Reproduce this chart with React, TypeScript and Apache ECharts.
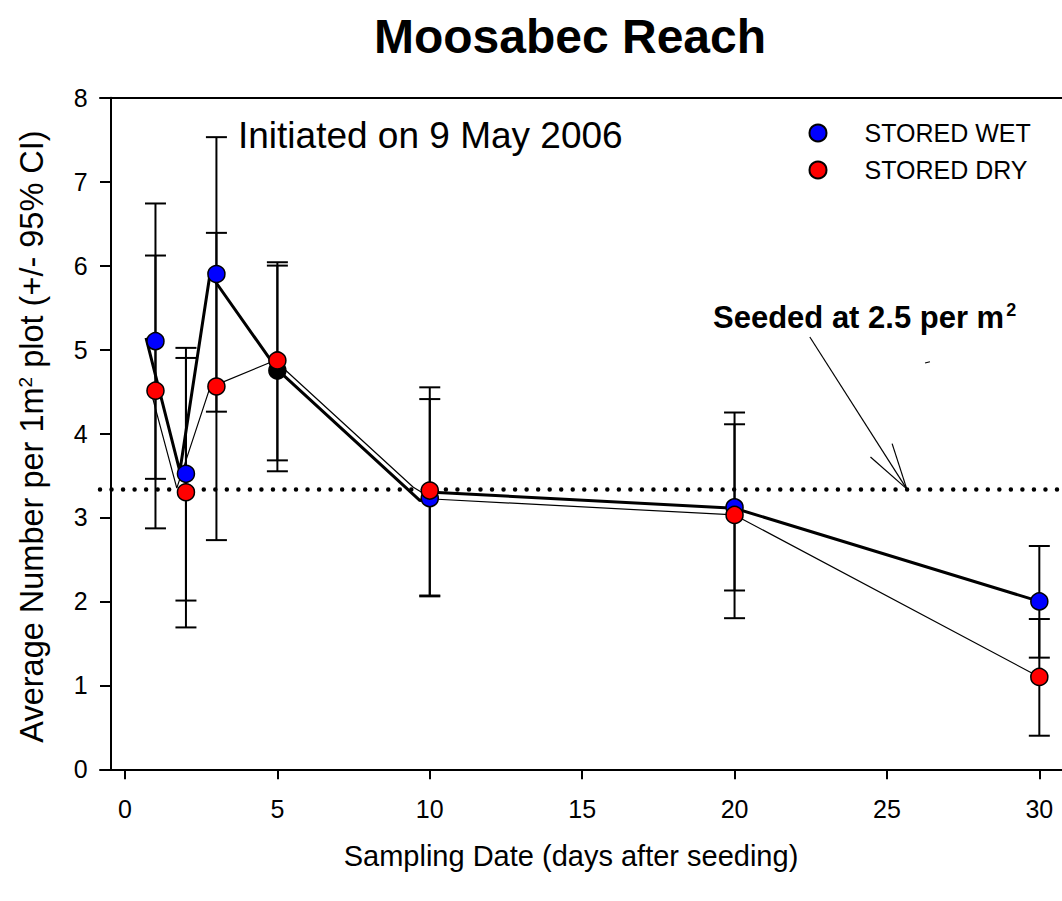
import React, { useEffect, useRef } from "react";
import * as echarts from "echarts";

const FONT = "'Liberation Sans', Arial, Helvetica, sans-serif";

// Sampling days (x) and values
const days = [1, 2, 3, 5, 10, 20, 30];
const wetMean = [5.1, 3.52, 5.9, 4.75, 3.23, 3.12, 2.0];
const wetLow = [3.46, 2.01, 4.26, 3.55, 2.06, 2.13, 1.33];
const wetHigh = [6.74, 5.02, 7.53, 6.0, 4.41, 4.11, 2.66];
const dryMean = [4.51, 3.3, 4.56, 4.87, 3.32, 3.03, 1.1];
const dryLow = [2.87, 1.69, 2.73, 3.68, 2.07, 1.8, 0.4];
const dryHigh = [6.12, 4.9, 6.39, 6.04, 4.55, 4.25, 1.79];

// Connecting-line vertices as drawn (slightly offset from the symbols)
const wetLineX = [0.69, 1.8, 2.79, 5.0, 9.68, 10.1, 20, 30];
const wetLineY = [5.14, 3.55, 5.9, 4.76, 3.2, 3.3, 3.11, 2.0];
const dryLineX = [0.88, 1.7, 2.79, 4.92, 9.46, 10.1, 20, 30];
const dryLineY = [4.46, 3.35, 4.55, 4.87, 3.36, 3.22, 3.03, 1.1];

const xTicks = [0, 5, 10, 15, 20, 25, 30];
const seededLevel = 3.34;
// arrow annotation (data coordinates)
const arrowStart = [22.47, 5.15];
const arrowTip = [25.65, 3.34];
const arrowBarb1 = [24.46, 3.72];
const arrowBarb2 = [25.17, 3.88];
const strayDash = [[26.25, 4.84], [26.41, 4.855]];

function errorBars(low: number[], high: number[]) {
  return days.map((d, i) => [d, low[i], high[i]]);
}

function renderErrorBar(params: any, api: any) {
  const x = api.value(0);
  const lo = api.coord([x, api.value(1)]);
  const hi = api.coord([x, api.value(2)]);
  const hw = 10.5;
  const st = { stroke: "#000", lineWidth: 2 };
  return {
    type: "group",
    children: [
      { type: "line", shape: { x1: lo[0], y1: lo[1], x2: hi[0], y2: hi[1] }, style: st },
      { type: "line", shape: { x1: lo[0] - hw, y1: lo[1], x2: lo[0] + hw, y2: lo[1] }, style: st },
      { type: "line", shape: { x1: hi[0] - hw, y1: hi[1], x2: hi[0] + hw, y2: hi[1] }, style: st },
    ],
  };
}

export default function App() {
  const ref = useRef<HTMLDivElement>(null);
  useEffect(() => {
    if (!ref.current) return;
    const chart = echarts.init(ref.current, undefined, { renderer: "svg" });
    const xMin = -0.82;
    const xMax = 30.744;
    const thin = { color: "#000", width: 1.2, type: "solid" };
    chart.setOption({
      animation: false,
      backgroundColor: "#fff",
      title: {
        text: "Moosabec Reach",
        left: 570,
        top: 12,
        textAlign: "center",
        padding: 0,
        textStyle: { fontSize: 48, fontWeight: "bold", fontFamily: FONT, color: "#000" },
      },
      legend: {
        orient: "vertical",
        left: 808.5,
        top: 120.5,
        itemWidth: 17,
        itemHeight: 17,
        itemGap: 12,
        icon: "circle",
        padding: 0,
        data: ["STORED WET", "STORED DRY"],
        textStyle: { fontSize: 25, fontFamily: FONT, color: "#000", padding: [0, 0, 0, 33] },
      },
      grid: { left: 100, right: 0, top: 97.7, bottom: 131.7, containLabel: false },
      xAxis: [
        {
          type: "value",
          min: xMin,
          max: xMax,
          name: "Sampling Date (days after seeding)",
          nameLocation: "middle",
          nameGap: 72,
          nameMoveOverlap: false,
          nameTextStyle: { fontSize: 29, fontFamily: FONT, color: "#000", padding: [0, 20, 0, 0] },
          axisLine: { show: true, onZero: false, lineStyle: { color: "#000", width: 2 } },
          axisTick: { show: true, customValues: xTicks, length: 10, lineStyle: { color: "#000", width: 2 } },
          axisLabel: { show: true, customValues: xTicks, fontSize: 25, fontFamily: FONT, color: "#000", margin: 27 },
          splitLine: { show: false },
        },
        {
          type: "value",
          position: "top",
          min: xMin,
          max: xMax,
          axisLine: { show: true, onZero: false, lineStyle: { color: "#000", width: 2 } },
          axisTick: { show: false },
          axisLabel: { show: false },
          splitLine: { show: false },
        },
      ],
      yAxis: {
        type: "value",
        min: 0,
        max: 8,
        interval: 1,
        offset: -10.7,
        name: "Average Number per 1m{sup|2} plot (+/- 95% CI)",
        nameLocation: "middle",
        nameGap: 62,
        nameMoveOverlap: false,
        nameTextStyle: {
          fontSize: 32.5,
          fontFamily: FONT,
          color: "#000",
          padding: [0, 6, 0, 0],
          rich: { sup: { fontSize: 19, fontFamily: FONT, color: "#000", verticalAlign: "top", padding: [0, 0, 13, 0] } },
        },
        axisLine: { show: true, onZero: false, lineStyle: { color: "#000", width: 2 } },
        axisTick: { show: true, length: 10.7, lineStyle: { color: "#000", width: 2 } },
        axisLabel: { fontSize: 25, fontFamily: FONT, color: "#000", margin: 23 },
        splitLine: { show: false },
      },
      graphic: [
        {
          type: "text",
          left: 238,
          top: 117,
          style: { text: "Initiated on 9 May 2006", font: `37px ${FONT}`, fill: "#000" },
        },
        {
          type: "text",
          left: 713,
          top: 301,
          style: {
            text: "Seeded at 2.5 per m{sup|2}",
            font: `bold 31px ${FONT}`,
            fill: "#000",
            rich: { sup: { font: `bold 18px ${FONT}`, fill: "#000", verticalAlign: "top", padding: [0, 0, 14, 2] } },
          },
        },
      ],
      series: [
        {
          type: "custom",
          name: "wetErr",
          renderItem: renderErrorBar,
          data: errorBars(wetLow, wetHigh),
          encode: { x: 0, y: [1, 2] },
          z: 2,
          silent: true,
        },
        {
          type: "custom",
          name: "dryErr",
          renderItem: renderErrorBar,
          data: errorBars(dryLow, dryHigh),
          encode: { x: 0, y: [1, 2] },
          z: 2,
          silent: true,
        },
        {
          type: "line",
          name: "wetLine",
          data: wetLineX.map((x, i) => [x, wetLineY[i]]),
          showSymbol: false,
          symbol: "none",
          lineStyle: { color: "#000", width: 3 },
          z: 3,
          silent: true,
          markLine: {
            silent: true,
            symbol: "none",
            label: { show: false },
            lineStyle: { color: "#000", width: 4.5, type: [0, 11.53], cap: "round" },
            data: [{ yAxis: seededLevel }],
          },
        },
        {
          type: "line",
          name: "dryLine",
          data: dryLineX.map((x, i) => [x, dryLineY[i]]),
          showSymbol: false,
          symbol: "none",
          lineStyle: { color: "#000", width: 1.2 },
          z: 3,
          silent: true,
          markLine: {
            silent: true,
            symbol: "none",
            label: { show: false },
            lineStyle: thin,
            data: [
              [{ coord: arrowStart }, { coord: arrowTip }],
              [{ coord: arrowBarb1 }, { coord: arrowTip }],
              [{ coord: arrowBarb2 }, { coord: arrowTip }],
              [{ coord: strayDash[0] }, { coord: strayDash[1] }],
            ],
          },
        },
        {
          type: "scatter",
          name: "STORED WET",
          data: days.map((d, i) =>
            i === 3
              ? { value: [d, wetMean[i]], itemStyle: { color: "#000" } }
              : [d, wetMean[i]]
          ),
          symbol: "circle",
          symbolSize: 17,
          itemStyle: { color: "#0000ff", borderColor: "#000", borderWidth: 1.5, opacity: 1 },
          z: 4,
        },
        {
          type: "scatter",
          name: "STORED DRY",
          data: days.map((d, i) => [d, dryMean[i]]),
          symbol: "circle",
          symbolSize: 17,
          itemStyle: { color: "#ff0000", borderColor: "#000", borderWidth: 1.5, opacity: 1 },
          z: 5,
        },
      ],
    });
    return () => chart.dispose();
  }, []);
  return (
    <div
      ref={ref}
      style={{ position: "absolute", left: 0, top: 0, width: 1062, height: 901, background: "#fff" }}
    />
  );
}
